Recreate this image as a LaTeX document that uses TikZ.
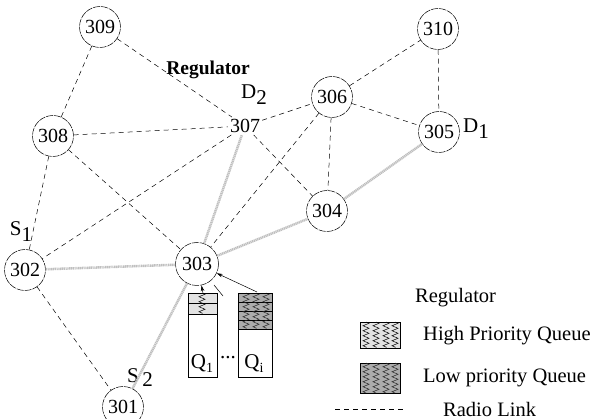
\documentclass[tikz,border=0pt]{standalone}
\usepackage{fontspec}
\setmainfont{Liberation Serif}
\usetikzlibrary{decorations.pathmorphing,arrows.meta}
\begin{document}
\begin{tikzpicture}[x=1pt,y=-1pt,
  nd/.style={circle,draw,dash pattern=on 7pt off 1pt,line width=0.5pt,minimum size=41pt,inner sep=0pt,font=\fontsize{20}{22}\selectfont},
  radio/.style={dash pattern=on 5pt off 4pt,line width=0.5pt},
  reg/.style={draw=gray!50,line width=2.5pt,dash pattern=on 1.2pt off 0.6pt},
  txt/.style={font=\fontsize{21}{23}\selectfont,inner sep=0pt},
  lbl/.style={font=\fontsize{20.5}{22}\selectfont,anchor=west,inner sep=0pt},
  zz/.style={decorate,decoration={zigzag,segment length=5pt,amplitude=3pt},line width=0.5pt},
  hiq/.style={fill=gray!22,draw,line width=0.5pt},
  loq/.style={fill=gray!65,draw,line width=0.5pt},
  arr/.style={-{Stealth[length=6pt,width=3.5pt]},line width=0.5pt}]
\useasboundingbox (0,0) rectangle (597,419);
% nodes
\node[nd] (n309) at (100,27) {309};
\node[nd] (n310) at (438,29) {310};
\node[nd] (n306) at (332,97) {306};
\node[txt,font=\fontsize{20}{22}\selectfont,inner sep=2pt] (n307) at (245,126) {307};
\node[nd] (n308) at (53,136) {308};
\node[nd] (n305) at (439,132) {305};
\node[nd] (n304) at (327,211) {304};
\node[nd,minimum size=43pt] (n303) at (197,264) {303};
\node[nd] (n302) at (25,270) {302};
\node[nd] (n301) at (123,407) {301};
% labels
\node[txt,font=\fontsize{19.5}{21}\selectfont\bfseries] (lreg) at (208,70) {Regulator};
\node[txt] (ld2) at (254,95) {D\raisebox{-6pt}{2}};
\node[txt] (ld1) at (476,129) {D\raisebox{-6pt}{1}};
\node[txt] (ls1) at (21,232) {S\raisebox{-6pt}{1}};
\node[txt] (ls2) at (140,378) {S\raisebox{-4pt}{\,2}};
% radio links
\draw[radio] (n309) -- (n308);
\draw[radio] (n309) -- (n307);
\draw[radio] (n308) -- (n307);
\draw[radio] (n308) -- (n302);
\draw[radio] (n308) -- (n303);
\draw[radio] (n307) -- (n306);
\draw[radio] (n307) -- (n304);
\draw[radio] (n307) -- (n302);
\draw[radio] (n306) -- (n310);
\draw[radio] (n306) -- (n305);
\draw[radio] (n306) -- (n304);
\draw[radio] (n306) -- (n303);
\draw[radio] (n310) -- (n305);
\draw[radio] (n302) -- (n301);
% regulator links
\draw[reg] (n302) -- (n303);
\draw[reg] (n303) -- (n304);
\draw[reg] (n304) -- (n305);
\draw[reg] (n303) -- (n307);
\draw[reg] (n303) -- (n301);
% queue Q1
\draw[hiq] (188,293) rectangle (217,303);
\draw[hiq] (188,303) rectangle (217,314);
\draw[zz] (202,293) -- (202,314);
\draw[line width=0.5pt] (188,293) rectangle (217,377);
\node[txt] (q1) at (202,364) {Q\raisebox{-4pt}{\fontsize{14}{14}\selectfont 1}};
\coordinate (q1top) at (203,293);
% queue Qi
\foreach \y in {293,302,311,320} {\draw[loq] (238,\y) rectangle (272,\y+9);}
\foreach \x in {246,256,266} {\draw[zz,draw=gray!30!black] (\x,293) -- (\x,329);}
\draw[line width=0.5pt] (238,293) rectangle (272,377);
\node[txt] (qi) at (254,364) {Q\raisebox{-4pt}{\fontsize{14}{14}\selectfont i}};
\node[txt] (dots) at (228,358) {...};
\coordinate (qitop) at (257,292);
\coordinate (mid) at (223,296);
\coordinate (midend) at (214,285);
\draw[arr] (q1top) -- (n303);
\draw[line width=0.5pt] (mid) -- (midend);
\draw[arr] (qitop) -- (n303);
% legend
\node[lbl] (lgreg) at (415,298) {Regulator};
\draw[hiq] (360,322) rectangle (400,348);
\foreach \x in {366,376,386,395} {\draw[zz] (\x,322) -- (\x,348);}
\node[lbl] (lghi) at (423,336) {High Priority Queue};
\draw[loq] (360,363) rectangle (400,393);
\foreach \x in {366,376,386,395} {\draw[zz,draw=gray!30!black] (\x,363) -- (\x,393);}
\node[lbl] (lglo) at (423,378) {Low priority Queue};
\coordinate (rl1) at (335,409);
\coordinate (rl2) at (403,409);
\draw[radio] (rl1) -- (rl2);
\node[lbl] (lgrl) at (443,409) {Radio Link};
\end{tikzpicture}
\end{document}
